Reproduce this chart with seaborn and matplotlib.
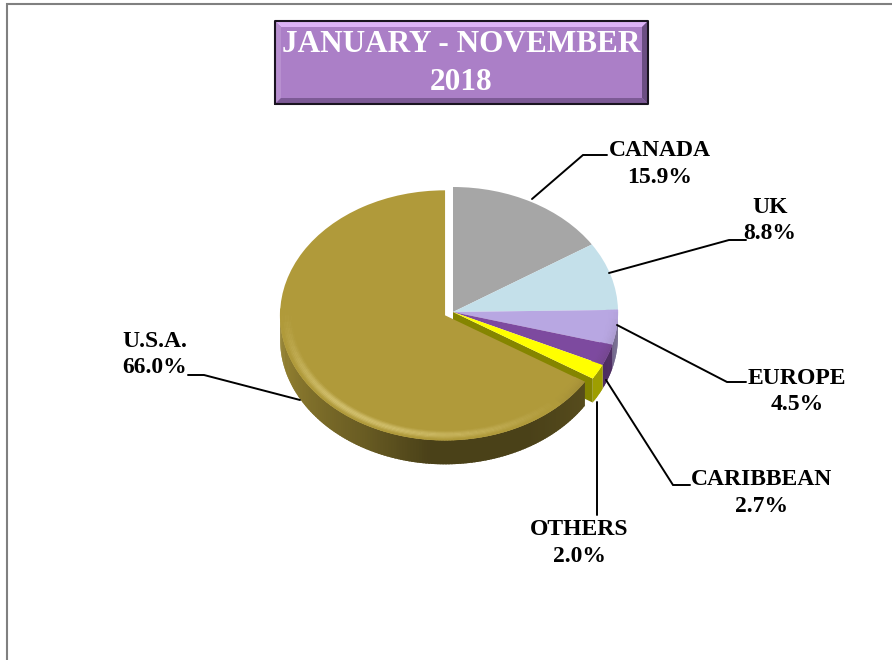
import numpy as np
import matplotlib
matplotlib.use("Agg")
import matplotlib.pyplot as plt
from matplotlib.patches import Wedge, Polygon
import seaborn as sns

# ---- data ----
categories = ["CANADA", "UK", "EUROPE", "CARIBBEAN", "OTHERS", "U.S.A."]
shares = [15.9, 8.8, 4.5, 2.7, 2.0, 66.0]
title_lines = ["JANUARY - NOVEMBER", "2018"]

# ---- style and layout ----
hex_colors = ["#A6A6A6", "#C4E0EA", "#B8A7E2", "#7D4A9F", "#FFFF00", "#B09A3A"]
explode = [0, 0, 0, 0, 0, 0.055]
W, H = 892, 660
CX, CY, RX, RY = 453, 312, 165, 125
DEPTH = 24 / RY
SERIF = "Liberation Serif"

label_pos = {
    "CANADA": (660, 164), "UK": (770, 220.5), "EUROPE": (797, 391.5),
    "CARIBBEAN": (762, 493), "OTHERS": (579, 543), "U.S.A.": (155, 354.5),
}
leaders = {
    "CANADA": [(532, 199), (583, 155), (607, 155)],
    "UK": [(609, 273), (729, 240), (746, 240)],
    "EUROPE": [(617, 325), (727, 382), (746, 382)],
    "CARIBBEAN": [(606, 380), (673, 485), (690, 485)],
    "OTHERS": [(597, 402), (597, 515)],
    "U.S.A.": [(300, 400), (204, 375), (188, 375)],
}

sns.set_theme(style="white")
palette = sns.color_palette(hex_colors)

fig = plt.figure(figsize=(W / 100, H / 100), dpi=100, facecolor="white")
ax = fig.add_axes([0, 0, 1, 1])
wedges, _ = ax.pie(shares, colors=palette, startangle=90, counterclock=False,
                   explode=explode, radius=1, wedgeprops={"linewidth": 0})
ax.set_aspect("auto")
ax.set_xlim(-CX / RX, (W - CX) / RX)
ax.set_ylim((CY - H) / RY, CY / RY)
ax.axis("off")
for w in wedges:
    w.set_zorder(5)


def mix(c, t, amount):
    return tuple(np.clip(np.array(c) * (1 - amount) + np.array(t) * amount, 0, 1))


def side_factor(deg, is_main):
    deg = deg % 360
    if is_main:
        return np.interp(deg, [180, 200, 240, 265, 300, 330], [.86, .80, .60, .42, .42, .5])
    return 0.62


# outer walls of the disc
for i in sorted(range(len(wedges)), key=lambda k: k == 5):
    w = wedges[i]
    cx, cy = w.center
    a = np.arange(w.theta1, w.theta2 + 1.0, 1.0)
    a = np.append(a[a < w.theta2], w.theta2)
    for a0, a1 in zip(a[:-1], a[1:]):
        if np.sin(np.radians((a0 + a1) / 2)) > 0.005:
            continue
        end = min(a1 + 0.8, w.theta2)
        t = np.radians([a0, end])
        xs = cx + np.cos(t)
        ys = cy + np.sin(t)
        col = np.array(palette[i]) * side_factor((a0 + a1) / 2, i == 5)
        ax.fill([xs[0], xs[1], xs[1], xs[0]],
                [ys[0], ys[1], ys[1] - DEPTH, ys[0] - DEPTH],
                color=tuple(col), lw=0, zorder=2 if i != 5 else 3)

# cut face of the slice beside the exploded one
others = wedges[4]
t0 = np.radians(others.theta1)
ex, ey = np.cos(t0), np.sin(t0)
ax.add_patch(Polygon([(0, 0), (ex, ey), (ex, ey - DEPTH), (0, -DEPTH)],
                     closed=True, fc="#858500", ec="none", zorder=2.5))

# soft bevel along the rim of the top face
STEPS = 8
for i, w in enumerate(wedges):
    width = 0.075
    ang = np.arange(w.theta1, w.theta2 + 3, 3.0)
    ang = np.append(ang[ang < w.theta2], w.theta2)
    for a0, a1 in zip(ang[:-1], ang[1:]):
        mid = np.radians((a0 + a1) / 2)
        s = np.cos(mid - np.radians(225))
        weight = np.clip(-np.sin(mid) * 1.3 + 0.05, 0, 1)
        if i == 4 or weight <= 0:
            continue
        for k in range(STEPS):
            frac = (k + 1) / STEPS
            r = 1 - width * (1 - frac)
            glow = np.sin(np.pi * frac) ** 1.5 if s > 0 else frac ** 2
            if s > 0.0:
                col = mix(palette[i], (1, .95, .7), 0.45 * s * weight * glow)
            else:
                col = mix(palette[i], (.25, .2, .15), 0.45 * (-s + .1) * weight * glow)
            ax.add_patch(Wedge(w.center, r, a0, a1, width=width / STEPS,
                               fc=col, ec=col, lw=0.2, zorder=6))

# overlay in pixel coordinates
ov = fig.add_axes([0, 0, 1, 1], facecolor="none")
ov.set_xlim(0, W)
ov.set_ylim(H, 0)
ov.axis("off")

# page border
ov.plot([7, 7, W], [H, 4, 4], color="#808080", lw=1.5, solid_joinstyle="miter")

# bevelled title box
x0, x1, y0, y1 = 275, 648, 21, 104
b = 6
ov.add_patch(Polygon([(x0, y0), (x1, y0), (x1, y1), (x0, y1)], fc="#AB7FC7", ec="none", zorder=3))
faces = [
    ([(x0, y0), (x1, y0), (x1 - b, y0 + b), (x0 + b, y0 + b)], "#DDB3F7"),
    ([(x0, y0), (x0 + b, y0 + b), (x0 + b, y1 - b), (x0, y1)], "#B890D0"),
    ([(x1, y0), (x1, y1), (x1 - b, y1 - b), (x1 - b, y0 + b)], "#6B4E82"),
    ([(x0, y1), (x1, y1), (x1 - b, y1 - b), (x0 + b, y1 - b)], "#7D5A96"),
]
for pts, c in faces:
    ov.add_patch(Polygon(pts, fc=c, ec="none", zorder=3.2))
ov.plot([x0, x0, x1, x1, x0], [y1, y0, y0, y1, y1], color="#1A1420", lw=1.5, zorder=3.4)
ov.text(461, 44, title_lines[0], family=SERIF, weight="bold", fontsize=22.5,
        color="white", ha="center", va="center", zorder=4)
ov.text(461, 83, title_lines[1], family=SERIF, weight="bold", fontsize=22.5,
        color="white", ha="center", va="center", zorder=4)

# labels and leader lines
for cat, val in zip(categories, shares):
    pts = np.array(leaders[cat])
    ov.plot(pts[:, 0], pts[:, 1], color="black", lw=1.4, zorder=2,
            solid_joinstyle="miter")
    x, y = label_pos[cat]
    ov.text(x, y, f"{cat}\n{val:.1f}%", family=SERIF, weight="bold", fontsize=17,
            color="black", ha="center", va="center", linespacing=1.37, zorder=4)

fig.savefig("out.png", dpi=100, facecolor="white")
